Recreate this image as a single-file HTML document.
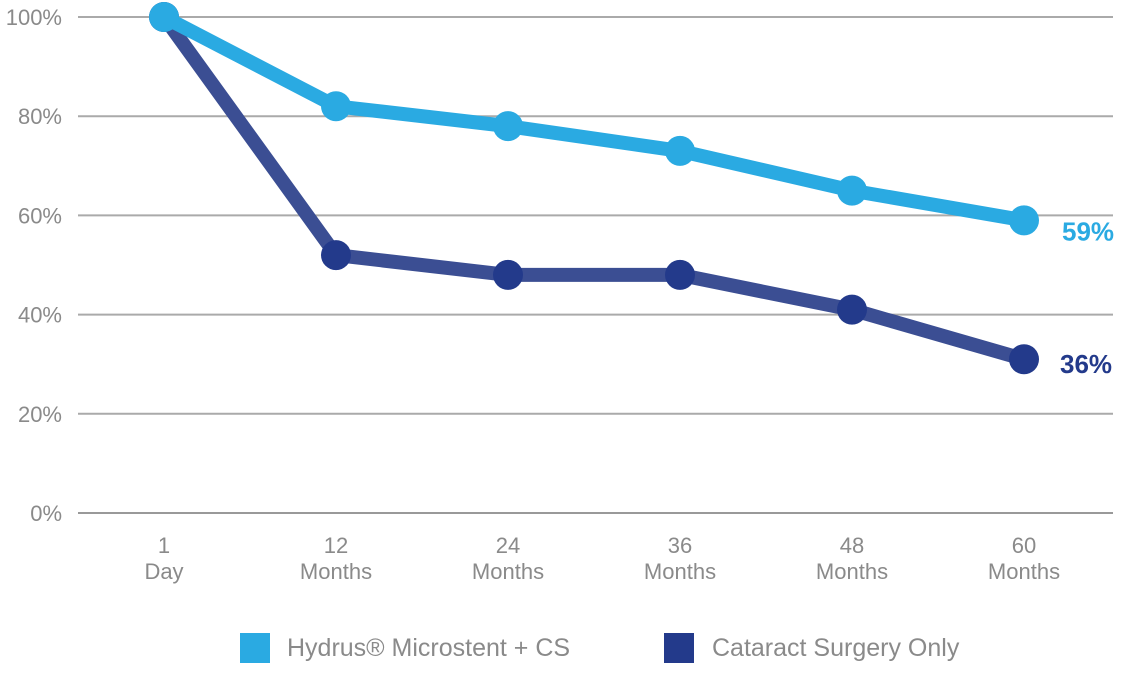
<!DOCTYPE html>
<html><head><meta charset="utf-8"><style>
body{margin:0;background:#fff;}
svg{display:block;font-family:"Liberation Sans",sans-serif;}
</style></head><body>
<svg id="chart" width="1123" height="692" viewBox="0 0 1123 692"></svg>
<script>
const categories=["1|Day","12|Months","24|Months","36|Months","48|Months","60|Months"];
const hydrusValues=[100,82,78,73,65,59];
const cataractValues=[100,52,48,48,41,31];
const endLabels=["59%","36%"];
const yTicks=[0,20,40,60,80,100];
const NS="http://www.w3.org/2000/svg";
const svg=document.getElementById('chart');
function x(i){return 164+i*172;}
function y(v){return 513-v*4.96;}
function mk(t,a,p){const e=document.createElementNS(NS,t);for(const k in a)e.setAttribute(k,a[k]);(p||svg).appendChild(e);return e;}
yTicks.forEach(t=>{
  const l=mk('line',{x1:78,x2:1113,y1:y(t),y2:y(t),stroke:t===0?'#999':'#aaa','stroke-width':2});
  
  
  const tx=mk('text',{x:62,y:y(t)+8,'text-anchor':'end','font-size':22,fill:'#8a8a8a'});
  tx.textContent=t+'%';
  
  
});
categories.forEach((c,i)=>{
  const parts=c.split('|');
  const tx=mk('text',{x:x(i),y:553,'text-anchor':'middle','font-size':22,fill:'#8a8a8a'});
  
  
  mk('tspan',{x:x(i),dy:0},tx).textContent=parts[0];
  mk('tspan',{x:x(i),dy:26},tx).textContent=parts[1];
});
function series(vals,lineCol,dotCol,name){
  const g=mk('g',{});
  
  
  const pl=mk('polyline',{points:vals.map((v,i)=>x(i)+','+y(v)).join(' '),fill:'none',stroke:lineCol,'stroke-width':14,'stroke-linejoin':'round'},g);
  
  
  vals.forEach((v,i)=>{
    const c=mk('circle',{cx:x(i),cy:y(v),r:15,fill:dotCol},g);
    
    
  });
}
series(cataractValues,'#3b4e93','#233a8b','cataract');
series(hydrusValues,'#2aaae2','#2aaae2','hydrus');
const l1=mk('text',{x:1062,y:y(hydrusValues[5])+20,'font-size':26,'font-weight':'bold',fill:'#2aaae2'});
l1.textContent=endLabels[0];


const l2=mk('text',{x:1060,y:y(cataractValues[5])+14,'font-size':26,'font-weight':'bold',fill:'#233a8b'});
l2.textContent=endLabels[1];


[[240,'#2aaae2','Hydrus® Microstent + CS',287,'legend-hydrus'],[664,'#233a8b','Cataract Surgery Only',712,'legend-cataract']].forEach(d=>{
  const g=mk('g',{});
  
  
  mk('rect',{x:d[0],y:633,width:30,height:30,fill:d[1]},g);
  mk('text',{x:d[3],y:656,'font-size':25,fill:'#8a8a8a'},g).textContent=d[2];
});
</script>
</body></html>
